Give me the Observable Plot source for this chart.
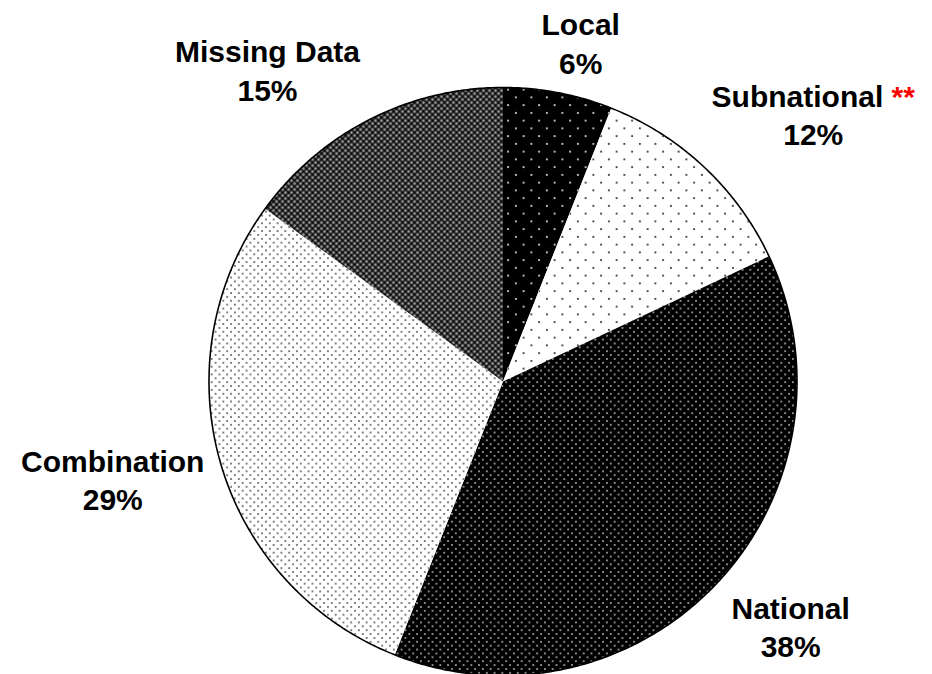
<!DOCTYPE html>
<html><head><meta charset="utf-8">
<script src="https://cdn.jsdelivr.net/npm/d3@7"></script>
<script src="https://cdn.jsdelivr.net/npm/@observablehq/plot@0.6"></script>
<style>body{margin:0;background:#fff} #chart{width:932px;height:674px;overflow:hidden}</style>
</head><body><div id="chart"></div>
<script>
// ---- data ----
const categories = ["Local", "Subnational", "National", "Combination", "Missing Data"];
const shares = [6, 12, 38, 29, 15];
const pctLabels = ["6%", "12%", "38%", "29%", "15%"];
const notes = ["", "**", "", "", ""];
const patternIds = ["pLocal", "pSub", "pNat", "pComb", "pMiss"];

// ---- layout (not data) ----
const W = 932, H = 674, cx = 502.5, cy = 381, R = 294;
// radial distance (in radii) and angular nudge (degrees) for each label
const labelRadius = [1.184, 1.394, 1.283, 1.368, 1.331];
const labelNudge = [2.1, 6.0, -2.9, 2.2, -10.0];

const arcs = d3.pie().sort(null).value(d => d)(shares);
const slices = arcs.map((a, i) => {
  const pts = [{x: 0, y: 0}];
  const n = Math.max(8, Math.ceil((a.endAngle - a.startAngle) / (Math.PI / 360)));
  for (let k = 0; k <= n; k++) {
    const t = a.startAngle + (a.endAngle - a.startAngle) * k / n;
    pts.push({x: Math.sin(t), y: Math.cos(t)});
  }
  return pts;
});
const rim = d3.range(0, 721).map(k => {
  const t = k / 720 * 2 * Math.PI;
  return {x: Math.sin(t), y: Math.cos(t)};
});
const labels = arcs.map((a, i) => {
  const m = (a.startAngle + a.endAngle) / 2 + labelNudge[i] * Math.PI / 180;
  return {
    x: Math.sin(m) * labelRadius[i],
    y: Math.cos(m) * labelRadius[i],
    text: categories[i] + (notes[i] ? " " + notes[i] : "") + "\n" + pctLabels[i]
  };
});

const svg = Plot.plot({
  width: W, height: H, margin: 0,
  style: {background: "white", overflow: "visible"},
  x: {domain: [-1, 1], range: [cx - R, cx + R], axis: null},
  y: {domain: [-1, 1], range: [cy + R, cy - R], axis: null},
  marks: [
    ...slices.map((pts, i) => Plot.line(pts, {x: "x", y: "y", curve: "linear-closed",
      fill: `url(#${patternIds[i]})`, stroke: "none"})),
    Plot.line(rim, {x: "x", y: "y", stroke: "black", strokeWidth: 1.6, fill: "none"}),
    Plot.text(labels, {x: "x", y: "y", text: "text", fontSize: 30, fontWeight: "bold",
      fontFamily: "Liberation Sans, Arial, sans-serif", lineHeight: 1.283, fill: "black"})
  ]
});

// ---- patterns ----
const defs = d3.select(svg).insert("defs", ":first-child");
function dotPattern(id, size, bg, dot, r) {
  const p = defs.append("pattern").attr("id", id).attr("patternUnits", "userSpaceOnUse")
    .attr("width", size).attr("height", size);
  p.append("rect").attr("width", size).attr("height", size).attr("fill", bg);
  [[size * 0.25, size * 0.25], [size * 0.75, size * 0.75]].forEach(([x, y]) =>
    p.append("rect").attr("x", x - r / 2).attr("y", y - r / 2).attr("width", r).attr("height", r).attr("fill", dot));
}
dotPattern("pLocal", 15.5, "#000", "#d8d8d8", 1.8);
dotPattern("pSub", 15.5, "#fff", "#333", 1.8);
dotPattern("pNat", 7.75, "#000", "#c8c8c8", 1.6);
dotPattern("pComb", 7.75, "#fff", "#6a6a6a", 1.8);
{
  const s = 6;
  const p = defs.append("pattern").attr("id", "pMiss").attr("patternUnits", "userSpaceOnUse")
    .attr("width", s).attr("height", s);
  p.append("rect").attr("width", s).attr("height", s).attr("fill", "#8a8a8a");
  p.append("path").attr("d", `M0,0L${s},${s}M${s},0L0,${s}`).attr("stroke", "#000").attr("stroke-width", 1.4);
  p.append("rect").attr("x", s / 2 - 0.6).attr("y", -0.6).attr("width", 1.2).attr("height", 1.2).attr("fill", "#eee");
  p.append("rect").attr("x", -0.6).attr("y", s / 2 - 0.6).attr("width", 1.2).attr("height", 1.2).attr("fill", "#eee");
}

// red asterisks inside the Subnational label
d3.select(svg).selectAll("tspan").each(function() {
  const t = this.textContent;
  if (t.endsWith("**")) {
    this.textContent = t.slice(0, -2);
    d3.select(this).append("tspan").attr("fill", "#ff0000").text("**");
  }
});

document.getElementById("chart").appendChild(svg);
</script>
</body></html>
